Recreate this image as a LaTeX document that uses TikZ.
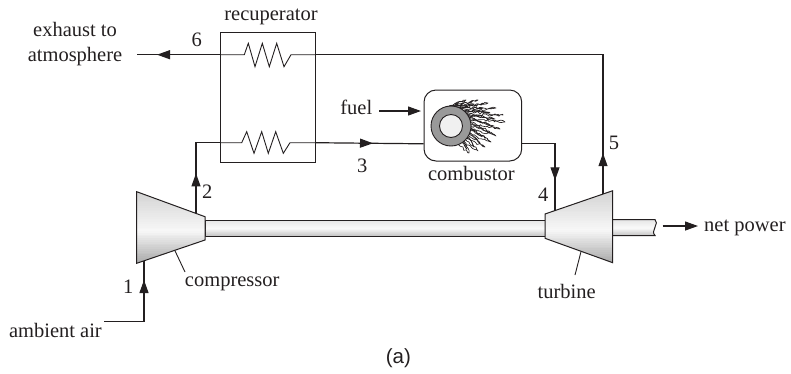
\documentclass[tikz,border=0pt]{standalone}
\usepackage{fontspec}
\setmainfont{Liberation Serif}
\newfontfamily\capfont{Liberation Sans}
\usetikzlibrary{arrows.meta,decorations.markings,decorations.pathmorphing,calc}

\definecolor{ink}{HTML}{231F20}

% horizontal bands of grey from #5 (top) via #6 (at 55%) to #7 (bottom),
% covering x from #1 to #2 and y from #3 to #4
\newcommand\greybands[7]{%
  \foreach \k in {0,...,39} {
    \pgfmathsetmacro\tt{\k/39}
    \pgfmathsetmacro\vv{\tt<0.55 ? #5+(#6-#5)*\tt/0.55 : #6+(#7-#6)*(\tt-0.55)/0.45}
    \pgfmathsetmacro\ya{#3+(#4-#3)*\k/40}
    \pgfmathsetmacro\yb{#3+(#4-#3)*(\k+1.3)/40}
    \fill[black!\vv] (#1,\ya) rectangle (#2,\yb);
  }}

\begin{document}
\begin{tikzpicture}[x=1pt,y=-1pt,
  every node/.style={inner sep=0pt, text=ink, font=\fontsize{20.5}{25}\selectfont},
  flow/.style={draw=ink, line width=1.2pt},
  thin line/.style={draw=ink, line width=0.9pt},
  outline/.style={draw=ink, line width=1pt},
  headtip/.style={-{Triangle[length=13pt,width=9pt]}},
  arrowmark/.style={postaction={decorate},
    decoration={markings, mark=at position #1 with {\arrow{Triangle[length=13pt,width=9pt]}}}},
  flame/.style={draw=ink, line width=0.65pt, line join=round, decorate,
    decoration={random steps, segment length=2.2pt, amplitude=1.2pt}}]

\useasboundingbox (0,0) rectangle (791,373);
\pgfmathsetseed{11}

% ---- shaft between compressor and turbine ----
\greybands{205}{545}{220}{236}{10}{2}{22}
\draw[outline] (205,220) rectangle (545,236);

% ---- output shaft with broken end ----
\begin{scope}
  \clip (612.7,219.5) -- (655,219.5)
    .. controls (660,223) and (650,231) .. (655,235.5) -- (612.7,235.5) -- cycle;
  \greybands{612}{660}{219.5}{235.5}{10}{2}{22}
\end{scope}
\draw[outline] (612.7,219.5) -- (655,219.5)
  .. controls (660,223) and (650,231) .. (655,235.5) -- (612.7,235.5);

% ---- compressor ----
\coordinate (c1) at (136.7,191.7);
\coordinate (c2) at (205,216.7);
\coordinate (c3) at (205,240);
\coordinate (c4) at (136.7,263.3);
\begin{scope}
  \clip (c1) -- (c2) -- (c3) -- (c4) -- cycle;
  \greybands{136}{206}{191.7}{263.3}{17}{3}{33}
\end{scope}
\draw[outline] (c1) -- (c2) -- (c3) -- (c4) -- cycle;
\coordinate (cin) at (144,260.8);
\coordinate (cout) at (196,213.4);

% ---- turbine ----
\coordinate (t1) at (545,214);
\coordinate (t2) at (612.7,190.7);
\coordinate (t3) at (612.7,262.7);
\coordinate (t4) at (545,238.3);
\begin{scope}
  \clip (t1) -- (t2) -- (t3) -- (t4) -- cycle;
  \greybands{544}{614}{190.7}{262.7}{17}{3}{33}
\end{scope}
\draw[outline] (t1) -- (t2) -- (t3) -- (t4) -- cycle;
\coordinate (tin) at (555,210.6);
\coordinate (tout) at (603,194.0);

% ---- recuperator ----
\node[draw=ink, line width=1pt, minimum width=94.3pt, minimum height=130.7pt] (rec) at (267.85,97.35) {};
\node[anchor=base] (reclabel) at (271,20.5) {recuperator};
\coordinate (hin) at (315,54.7);
\coordinate (hout) at (220.7,54.7);
\coordinate (rin) at (220.7,142.7);
\coordinate (rout) at (315,142.7);

% hot side coil
\draw[thin line] (hin) -- (291,54.7) -- (284,66.7) -- (276.7,43.3) -- (269.3,66.7)
  -- (262.3,43.3) -- (255,66.7) -- (248.3,43.3) -- (244.3,54.7) -- (hout);
% cold side coil
\draw[thin line] (rin) -- (241.7,142.7) -- (246.7,131.7) -- (254,153.3) -- (261.7,131.7)
  -- (268.3,153.3) -- (275.7,131.7) -- (283.3,153.3) -- (290,142.7) -- (rout);

% ---- combustor ----
\node[draw=ink, line width=1pt, rounded corners=12pt, minimum width=97.7pt, minimum height=71pt] (comb) at (472.85,125.5) {};
\path (comb.south west) ++(0,-17.7) coordinate (combin);
\path (comb.south east) ++(0,-17.7) coordinate (combout);
\node[anchor=base] (comblabel) at (471.3,180) {combustor};

% burner flame tongues: outer layer
\coordinate (fc) at (451,126);
\foreach \a/\tx/\ty in {-104/466/100, -88/478/100, -72/488/103, -57/496/108,
    -43/503/115, -29/505/122, -15/500/129, 0/496/136, 15/491/142,
    30/485/147, 45/478/151, 60/469/153} {
  \draw[flame] ($(fc)+({\a-11}:19.5)$) -- (\tx,\ty) -- ($(fc)+({\a+9}:19.5)$);
}
% inner, shorter tongues
\foreach \a/\tx/\ty in {-96/462/104, -80/474/104, -64/483/108, -50/490/113,
    -36/495/119, -22/494/126, -7/490/132, 8/486/138, 23/480/143, 38/474/147, 52/467/149} {
  \draw[flame] ($(fc)+({\a-5}:19.5)$) -- (\tx,\ty) -- ($(fc)+({\a+5}:19.5)$);
}
\draw[draw=ink, line width=0.9pt, fill=black!40] (fc) circle[radius=20];
\draw[draw=ink, line width=0.9pt, fill=black!6] (fc) circle[radius=11.5];

% ---- flow lines ----
\coordinate (ambend) at (104,321.7);
\node[anchor=base east] (amb) at (102,337) {ambient air};
\draw[flow, arrowmark=81.7pt] (ambend) -- (ambend -| cin) -- (cin);
\node[anchor=base] (n1) at (128.3,293.3) {1};

\draw[flow, arrowmark=40pt] (cout) -- (cout |- rin) -- (rin);
\node[anchor=base] (n2) at (207.3,198.3) {2};

\draw[flow, arrowmark=58pt] (rout) -- (combin);
\node[anchor=base] (n3) at (362.3,172.7) {3};

\draw[flow, arrowmark=69.3pt] (combout) -- (combout -| tin) -- (tin);
\node[anchor=base] (n4) at (543.3,201.7) {4};

\draw[flow, arrowmark=40.8pt] (tout) -- (tout |- hin) -- (hin);
\node[anchor=base] (n5) at (614,149.3) {5};

\coordinate (exend) at (136.7,54.7);
\draw[flow, arrowmark=63.7pt] (hout) -- (exend);
\node[anchor=base] (n6) at (196.7,46.7) {6};
\node[align=center] (exhaust) at (75,44.4) {exhaust to\\atmosphere};

% fuel
\node[anchor=base] (fuel) at (356.3,114) {fuel};
\coordinate (fuelstart) at (379,111);
\coordinate (fuelend) at (421,111);
\draw[flow, headtip] (fuelstart) -- (fuelend);

% net power
\coordinate (pwstart) at (662.7,226);
\coordinate (pwend) at (698,226);
\draw[flow, headtip] (pwstart) -- (pwend);
\node[anchor=base west] (power) at (704,231.5) {net power};

% component labels with leaders
\node[anchor=base] (complabel) at (232.2,286) {compressor};
\draw[thin line] (175,250.8) -- (185,272);
\node[anchor=base] (turblabel) at (566.7,298.3) {turbine};
\draw[thin line] (581,251.6) -- (575,275);

% caption
\node[anchor=base, font=\capfont\fontsize{20.5}{25}\selectfont] (caption) at (398.3,363) {(a)};
\end{tikzpicture}
\end{document}
